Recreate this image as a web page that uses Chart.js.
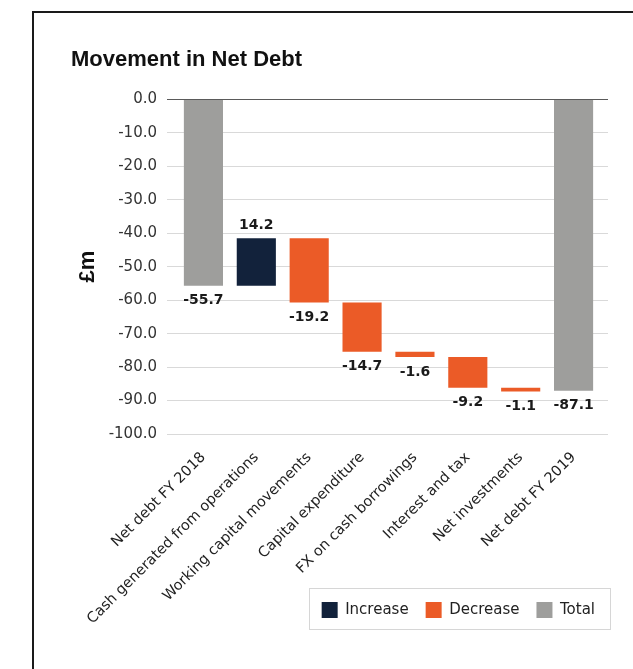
<!DOCTYPE html>
<html>
<head>
<meta charset="utf-8">
<script src="https://cdn.jsdelivr.net/npm/chart.js@4/dist/chart.umd.min.js"></script>
<style>
html, body { margin: 0; padding: 0; background: #fff; overflow: hidden; }
#frame { position: absolute; left: 32px; top: 11px; width: 700px; height: 700px; border-left: 2px solid #1a1a1a; border-top: 2px solid #1a1a1a; }
#wrap { position: absolute; left: 0; top: 0; width: 633px; height: 669px; }
</style>
</head>
<body>
<div id="frame"></div>
<div id="wrap"><canvas id="chart"></canvas></div>
<script>
var categories = ["Net debt FY 2018", "Cash generated from operations", "Working capital movements",
    "Capital expenditure", "FX on cash borrowings", "Interest and tax", "Net investments", "Net debt FY 2019"];
var changes = [-55.7, 14.2, -19.2, -14.7, -1.6, -9.2, -1.1, -87.1];
var kinds = ["total", "increase", "decrease", "decrease", "decrease", "decrease", "decrease", "total"];
var legend_names = ["Increase", "Decrease", "Total"];
var y_ticks = [0, -10, -20, -30, -40, -50, -60, -70, -80, -90, -100];

var colors = { increase: "#12223b", decrease: "#eb5b27", total: "#9e9e9c" };

//Build floating bars from the running total
var ranges = [];
var running = 0;
for (var i = 0; i < changes.length; i++) {
    if (kinds[i] == "total") {
        ranges.push([0, changes[i]]);
        running = changes[i];
    } else {
        ranges.push([running, running + changes[i]]);
        running = running + changes[i];
    }
}
var bar_colors = kinds.map(function (k) { return colors[k]; });

//Value labels at bar ends
var value_labels = {
    id: "value_labels",
    afterDatasetsDraw: function (chart) {
        var ctx = chart.ctx;
        var meta = chart.getDatasetMeta(0);
        ctx.save();
        ctx.font = "bold 14px 'DejaVu Sans'";
        ctx.fillStyle = "#1a1a1a";
        ctx.textAlign = "center";
        meta.data.forEach(function (bar, i) {
            var top = Math.min(bar.y, bar.base);
            var bottom = Math.max(bar.y, bar.base);
            var text = changes[i].toFixed(1);
            if (kinds[i] == "increase") {
                ctx.textBaseline = "bottom";
                ctx.fillText(text, bar.x, top - 6);
            } else {
                ctx.textBaseline = "top";
                ctx.fillText(text, bar.x, bottom + 8);
            }
        });
        ctx.restore();
    }
};

//Move legend up beside the long axis labels
var legend_place = {
    id: "legend_place",
    afterLayout: function (chart) {
        var lg = chart.legend;
        lg.top = 585;
        lg.bottom = lg.top + lg.height;
    }
};

//Box around legend items
var legend_box = {
    id: "legend_box",
    afterDraw: function (chart) {
        var boxes = chart.legend.legendHitBoxes;
        if (!boxes || !boxes.length) return;
        var first = boxes[0];
        var last = boxes[boxes.length - 1];
        var cy = first.top + first.height / 2;
        var ctx = chart.ctx;
        ctx.save();
        ctx.strokeStyle = "#d6d6d6";
        ctx.lineWidth = 1;
        ctx.strokeRect(Math.round(first.left - 13) + 0.5, Math.round(cy - 22) + 0.5,
            Math.round(last.left + last.width - first.left + 28), 41);
        ctx.restore();
    }
};

function grid_color(c) {
    return c.tick && c.tick.value === 0 ? "#5a5a5a" : "#d9d9d9";
}

new Chart(document.getElementById("chart"), {
    type: "bar",
    data: {
        labels: categories,
        datasets: [{
            label: "Movement",
            data: ranges,
            backgroundColor: bar_colors,
            borderWidth: 0,
            barPercentage: 0.74,
            categoryPercentage: 1
        }]
    },
    options: {
        responsive: true,
        maintainAspectRatio: false,
        animation: false,
        layout: { padding: { left: 71, top: 47, right: 21, bottom: 0 } },
        plugins: {
            title: {
                display: true,
                text: "Movement in Net Debt",
                align: "start",
                color: "#111",
                font: { family: "'Liberation Sans'", size: 22, weight: "bold" },
                padding: { top: 0, bottom: 26 }
            },
            legend: {
                position: "bottom",
                align: "end",
                maxHeight: 44,
                onClick: function () {},
                labels: {
                    boxWidth: 16,
                    boxHeight: 16,
                    padding: 17,
                    color: "#222",
                    font: { family: "'DejaVu Sans'", size: 15 },
                    generateLabels: function () {
                        return legend_names.map(function (name) {
                            var c = colors[name.toLowerCase()];
                            return { text: name, fillStyle: c, strokeStyle: c, lineWidth: 0, fontColor: "#222" };
                        });
                    }
                }
            },
            tooltip: { enabled: false }
        },
        scales: {
            x: {
                grid: { display: false },
                border: { display: false },
                ticks: {
                    minRotation: 45,
                    maxRotation: 45,
                    color: "#222",
                    padding: 7,
                    font: { family: "'DejaVu Sans'", size: 14.5 }
                },
                afterFit: function (s) { s.height = 192; }
            },
            y: {
                min: -100,
                max: 0,
                afterBuildTicks: function (s) { s.ticks = y_ticks.map(function (v) { return { value: v }; }); },
                border: { display: false },
                grid: { color: grid_color, tickLength: 10 },
                ticks: {
                    padding: 10,
                    color: "#333",
                    font: { family: "'DejaVu Sans'", size: 15 },
                    callback: function (v) { return Number(v).toFixed(1); }
                },
                title: {
                    display: true,
                    text: "£m",
                    color: "#111",
                    font: { family: "'Liberation Sans'", size: 22, weight: "bold" },
                    padding: { top: 4, bottom: 4 }
                },
                afterFit: function (s) { s.width = 106; }
            },
            y2: {
                position: "right",
                min: -100,
                max: 0,
                afterBuildTicks: function (s) { s.ticks = y_ticks.map(function (v) { return { value: v }; }); },
                border: { display: false },
                grid: { color: grid_color, drawOnChartArea: false, tickLength: 8 },
                ticks: { display: false },
                afterFit: function (s) { s.width = 12; }
            }
        }
    },
    plugins: [value_labels, legend_place, legend_box]
});
</script>
</body>
</html>
